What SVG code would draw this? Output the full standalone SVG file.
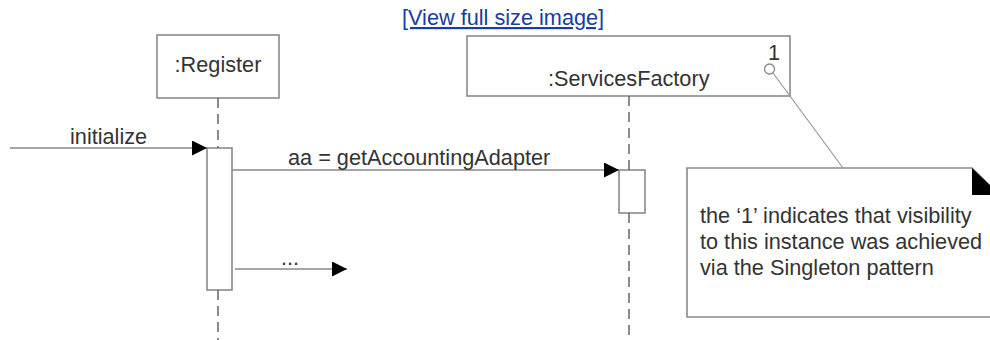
<svg xmlns="http://www.w3.org/2000/svg" width="990" height="340" viewBox="0 0 990 340">
<style>
text{font-family:"Liberation Sans",Arial,sans-serif;font-size:21.7px;fill:#333}
.box{fill:#fff;stroke:#8a8a8a;stroke-width:1.6}
.life{stroke:#666;stroke-width:1.5;stroke-dasharray:10 6;fill:none}
.msg{stroke:#888;stroke-width:1.3;fill:none}
.link{fill:#1a3c9c;text-decoration:underline}
</style>
<defs>
<marker id="ah" markerWidth="15" markerHeight="15" refX="15" refY="7.5" orient="auto" markerUnits="userSpaceOnUse">
<path d="M0,0 L15,7.5 L0,15 Z" fill="#000"/>
</marker>
</defs>
<text class="link" x="402" y="25">[View full size image]</text>
<g id="register">
<rect class="box" x="157" y="35" width="122" height="63"/>
<text x="218" y="72" text-anchor="middle">:Register</text>
<rect class="box" x="207" y="148" width="25" height="142"/>
</g>
<g id="servicesFactory">
<rect class="box" x="467" y="36" width="323" height="60"/>
<text x="548" y="86">:ServicesFactory</text>
<text x="768" y="60">1</text>
<rect class="box" x="619" y="170" width="26" height="43"/>
</g>
<g id="note">
<path class="box" d="M687,168 L972,168 L1000,196 L1000,317 L687,317 Z"/>
<path d="M972,168 L972,195 L1000,195 Z" fill="#000"/>
<text x="700" y="223">the ‘1’ indicates that visibility</text>
<text x="700" y="249">to this instance was achieved</text>
<text x="700" y="275">via the Singleton pattern</text>
</g>
<g id="connectors">
<line class="life" x1="218" y1="98" x2="218" y2="148"/>
<line class="life" x1="218" y1="290" x2="218" y2="340"/>
<line class="life" x1="629" y1="96" x2="629" y2="170"/>
<line class="life" x1="629" y1="213" x2="629" y2="340"/>
<line class="msg" x1="10" y1="148" x2="207" y2="148" marker-end="url(#ah)"/>
<line class="msg" x1="232" y1="170" x2="619" y2="170" marker-end="url(#ah)"/>
<line class="msg" x1="235" y1="269" x2="347" y2="269" marker-end="url(#ah)"/>
<line x1="773" y1="73" x2="843" y2="168" stroke="#999" stroke-width="1.2"/>
<circle cx="769.5" cy="69" r="5" fill="#fff" stroke="#888" stroke-width="1.3"/>
<text x="70" y="144">initialize</text>
<text x="288" y="165">aa = getAccountingAdapter</text>
<text x="281" y="265">...</text>
</g>
</svg>
